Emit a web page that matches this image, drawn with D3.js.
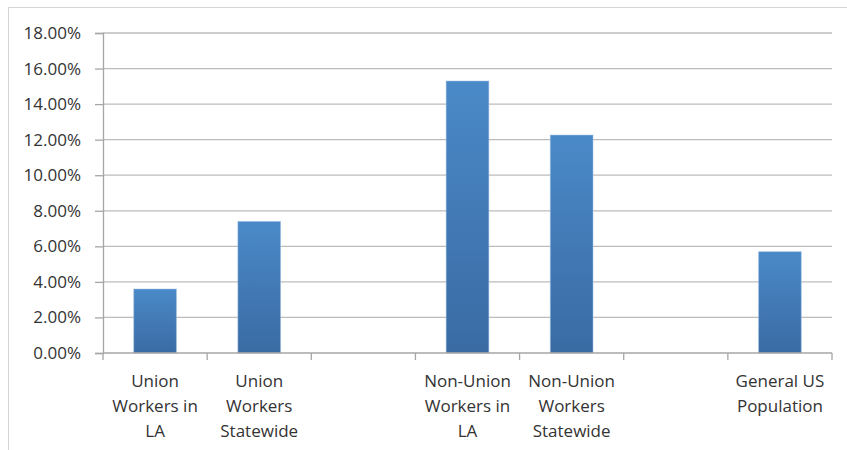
<!DOCTYPE html>
<html>
<head>
<meta charset="utf-8">
<script src="https://cdn.jsdelivr.net/npm/d3@7"></script>
<style>
  body { margin: 0; background: #fff; }
  text { font-family: "Open Sans", sans-serif; fill: #333; }
</style>
</head>
<body>
<div id="chart"></div>
<script>
// Chart data
const categories = [
    "Union\nWorkers in\nLA",
    "Union\nWorkers\nStatewide",
    "gap1",
    "Non-Union\nWorkers in\nLA",
    "Non-Union\nWorkers\nStatewide",
    "gap2",
    "General US\nPopulation"
]
const values = [0.036, 0.074, null, 0.153, 0.1226, null, 0.057]
const yTicks = [0, 0.02, 0.04, 0.06, 0.08, 0.10, 0.12, 0.14, 0.16, 0.18]

const W = 847, H = 450
const margin = { top: 33, right: 15, bottom: 97, left: 103 }
const sizes = {
    width: 832 - margin.left,
    height: 353 - margin.top
}

const svg = d3.select("#chart")
    .append("svg")
        .attr("width", W)
        .attr("height", H)

// outer frame
svg.append("rect")
    .attr("x", 8.5).attr("y", 7.5)
    .attr("width", W + 10).attr("height", H + 10)
    .attr("fill", "none")
    .attr("stroke", "#d4d4d4")

const defs = svg.append("defs")
const grad = defs.append("linearGradient")
    .attr("id", "barGrad")
    .attr("x1", 0).attr("y1", 0).attr("x2", 0).attr("y2", 1)
grad.append("stop").attr("offset", "0%").attr("stop-color", "#4a89c8")
grad.append("stop").attr("offset", "100%").attr("stop-color", "#3a6ba3")

const g = svg.append("g")
    .attr("transform", "translate(" + margin.left + "," + margin.top + ")")

const x = d3.scaleBand()
    .domain(categories)
    .range([0, sizes.width])
    .paddingInner(0.59)
    .paddingOuter(0.295)

const y = d3.scaleLinear()
    .domain([0, 0.18])
    .range([sizes.height, 0])

// gridlines
g.append("g")
    .selectAll("line")
    .data(yTicks.slice(1))
    .enter()
    .append("line")
        .attr("x1", 0).attr("x2", sizes.width)
        .attr("y1", d => y(d)).attr("y2", d => y(d))
        .attr("stroke", "#bcbcbc")
        .attr("stroke-width", 1.3)

// y axis
const yAxis = g.append("g")
    .call(d3.axisLeft(y).tickValues(yTicks).tickSize(8).tickPadding(14)
        .tickFormat(d => (d * 100).toFixed(2) + "%"))
yAxis.select(".domain").attr("stroke", "#a6a6a6").attr("stroke-width", 1.3)
yAxis.selectAll(".tick line").attr("stroke", "#a6a6a6").attr("stroke-width", 1.3)
yAxis.selectAll("text").style("font-size", "17px").attr("fill", "#333")

// bars
g.append("g")
    .selectAll("rect")
    .data(categories.map((c, i) => ({ c: c, v: values[i] })).filter(d => d.v != null))
    .enter()
    .append("rect")
        .attr("x", d => x(d.c))
        .attr("y", d => y(d.v))
        .attr("width", x.bandwidth())
        .attr("height", d => sizes.height - y(d.v))
        .attr("fill", "url(#barGrad)")
        .attr("stroke", "#9dbfe3")
        .attr("stroke-opacity", 0.5)
        .attr("stroke-width", 1)

// x axis line and ticks at band boundaries
const step = x.step()
const xa = g.append("g").attr("transform", "translate(0," + sizes.height + ")")
xa.append("line")
    .attr("x1", 0).attr("x2", sizes.width)
    .attr("stroke", "#a6a6a6").attr("stroke-width", 1.3)
xa.selectAll("line.tk")
    .data(d3.range(categories.length + 1))
    .enter()
    .append("line")
        .attr("class", "tk")
        .attr("x1", i => i * step).attr("x2", i => i * step)
        .attr("y1", 0).attr("y2", 7)
        .attr("stroke", "#a6a6a6").attr("stroke-width", 1.3)

// category labels
xa.selectAll("text.lbl")
    .data(categories.filter(c => !c.startsWith("gap")))
    .enter()
    .append("text")
        .attr("class", "lbl")
        .attr("text-anchor", "middle")
        .style("font-size", "17px")
        .attr("transform", d => "translate(" + (x(d) + x.bandwidth() / 2) + ",34)")
        .each(function (d) {
            const lines = d.split("\n")
            d3.select(this).selectAll("tspan")
                .data(lines)
                .enter()
                .append("tspan")
                    .attr("x", 0)
                    .attr("y", (l, i) => i * 25)
                    .text(l => l)
        })
</script>
</body>
</html>
